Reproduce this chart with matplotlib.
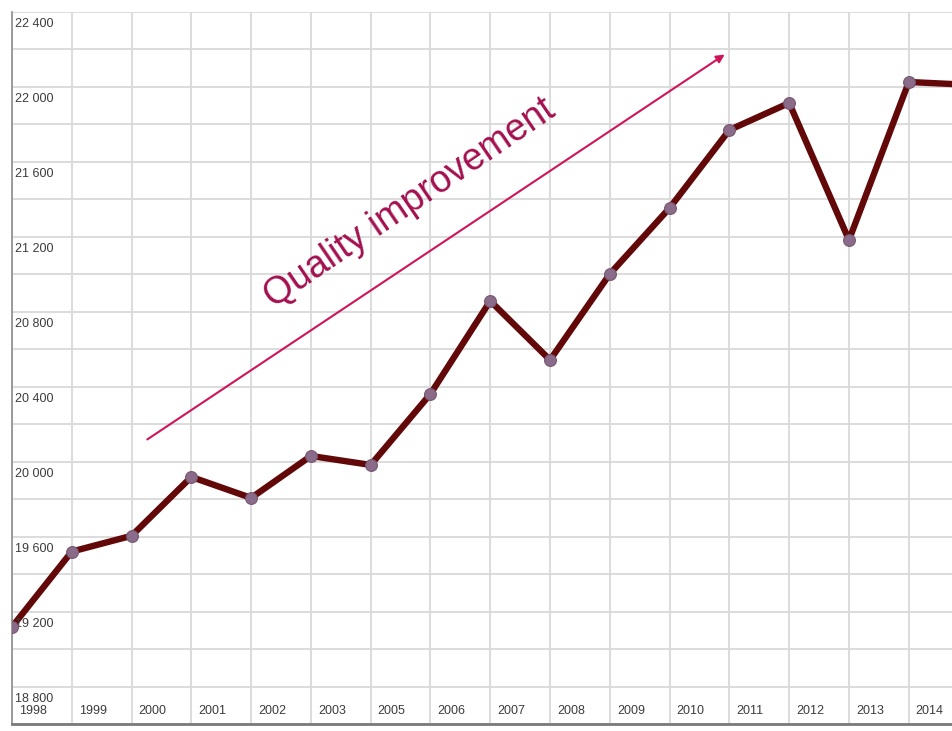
import matplotlib
matplotlib.use('Agg')
import matplotlib.pyplot as plt
from matplotlib import font_manager

# year labels as printed on the chart (2004 is missing in the original)
years = ['1998', '1999', '2000', '2001', '2002', '2003', '2005', '2006',
         '2007', '2008', '2009', '2010', '2011', '2012', '2013', '2014']
values = [19118, 19520, 19604, 19918, 19806, 20030, 19982, 20361,
          20857, 20542, 21001, 21353, 21769, 21913, 21182, 22025]
tail_value = 22010   # line runs on past the right edge
ytick_values = list(range(18800, 22401, 400))

names = {f.name for f in font_manager.fontManager.ttflist}
tick_font = 'Liberation Sans Narrow' if 'Liberation Sans Narrow' in names else 'Liberation Sans'
tick_size = 10.5 if tick_font == 'Liberation Sans Narrow' else 9

fig = plt.figure(figsize=(9.53, 7.31), dpi=100)
ax = fig.add_axes([12/953, 7/731, 941/953, 712.3/731])

xs = list(range(len(values) + 1))
ys = values + [tail_value]
ax.plot(xs, ys, color='#620808', lw=4.6, solid_capstyle='round', zorder=3)
ax.plot(range(len(values)), values, ls='none', marker='o', ms=8.5,
        mfc='#8a6c8a', mec='#76566f', mew=0.8, zorder=4)

ax.set_xlim(0, 15.74)
ax.set_ylim(18600, 22400)
ax.set_xticks(range(len(years)))
ax.set_yticks(range(18600, 22401, 200))
ax.tick_params(length=0, labelbottom=False, labelleft=False)
ax.grid(True, color='#d9d9d9', lw=1.3)
ax.set_axisbelow(True)

for s in ['top', 'right']:
    ax.spines[s].set_visible(False)
ax.spines['left'].set_color('#8c8c8c')
ax.spines['left'].set_linewidth(1.2)
ax.spines['bottom'].set_color('#7a7a7a')
ax.spines['bottom'].set_linewidth(2)

for i, y in enumerate(years):
    ax.annotate(y, xy=(i, 0), xycoords=('data', 'axes fraction'),
                xytext=(7, 13), textcoords='offset pixels', ha='left', va='center',
                family=tick_font, fontsize=tick_size, color='#3c3c3c')

for v in ytick_values:
    ax.annotate(f'{v // 1000} {v % 1000:03d}', xy=(0, v), xycoords=('axes fraction', 'data'),
                xytext=(3, -12.5), textcoords='offset pixels', ha='left', va='center',
                family=tick_font, fontsize=tick_size, color='#3c3c3c')

# trend arrow and label
ax.annotate('', xy=(11.96, 22180), xytext=(2.225, 20110),
            arrowprops=dict(arrowstyle='-|>', color='#d0145c', lw=1.5, mutation_scale=12))
ax.text(6.66, 21380, 'Quality improvement', rotation=34.3, rotation_mode='anchor',
        ha='center', va='center', fontsize=27, family='Liberation Sans', color='#a3104f')

fig.savefig('out.png', dpi=100)
